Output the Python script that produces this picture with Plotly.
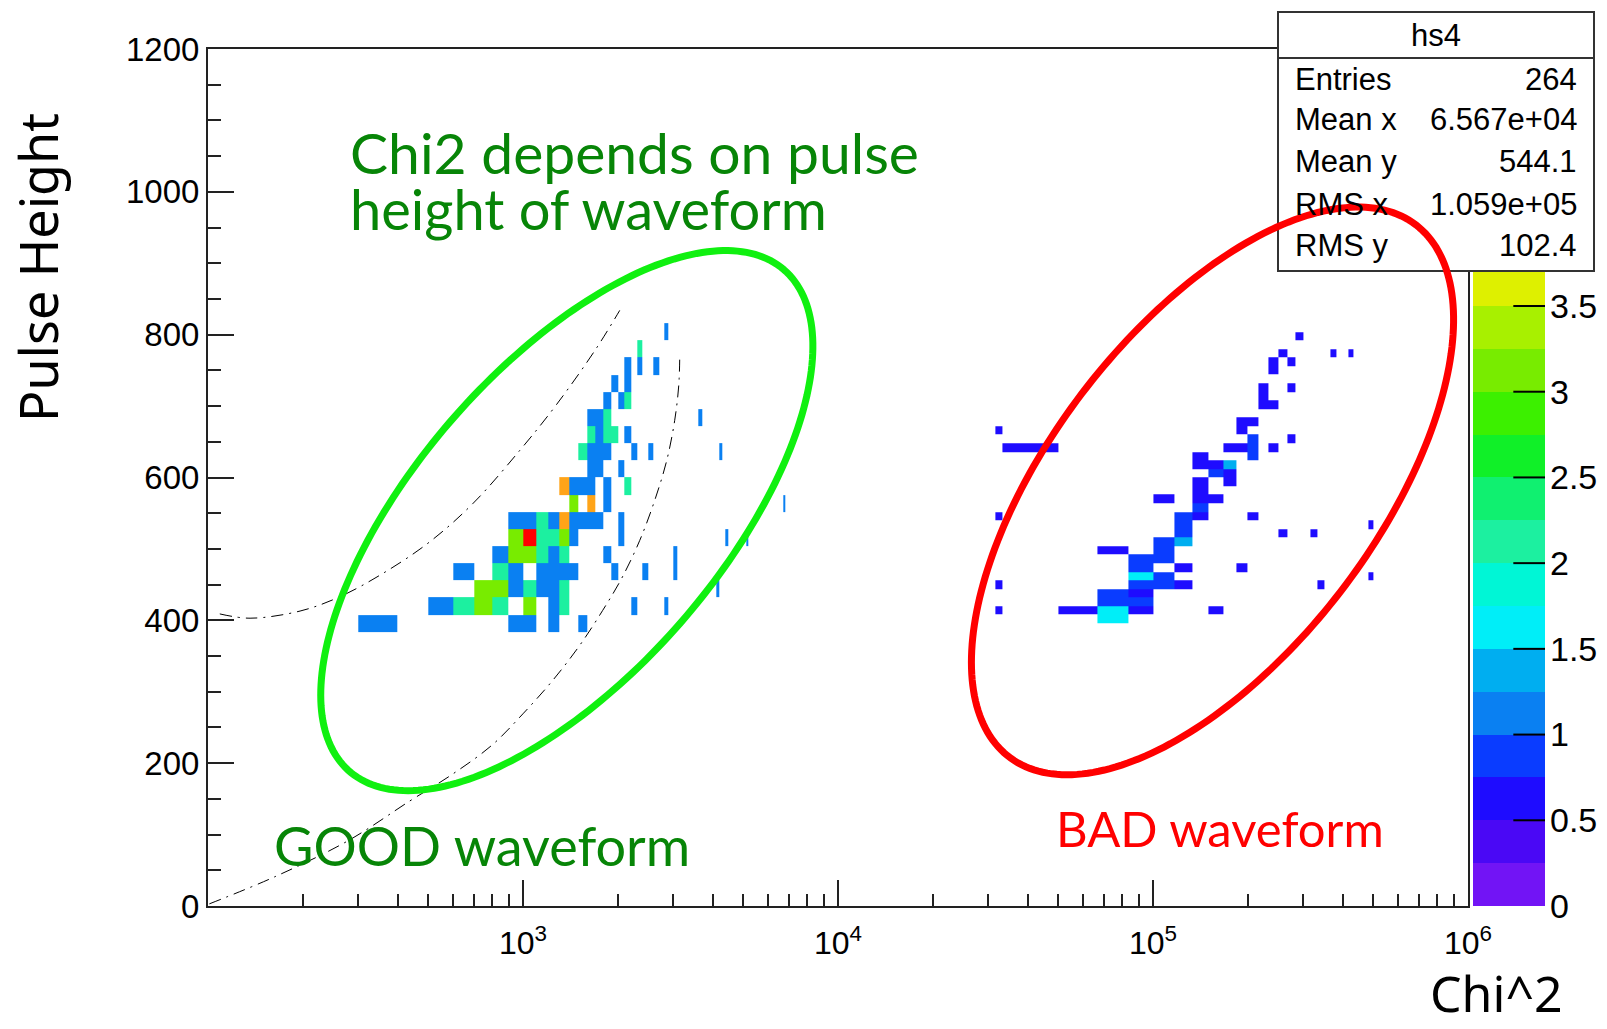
import numpy as np
import plotly.graph_objects as go

# ------------------------------------------------------------------ data
# GOOD-waveform histogram: bin low edges (Chi^2, Pulse Height) and counts
good_chi2 = [300, 900, 1000, 1200, 1500,
             500, 600, 700, 800, 1000, 1200, 1300, 2200, 2800,
             700, 800, 900, 1000, 1100, 1200, 1300, 4100,
             600, 800, 900, 1100, 1200, 1300, 1400, 1900, 2400, 3000,
             800, 900, 1000, 1100, 1200, 1300, 1800, 3000,
             900, 1000, 1100, 1200, 1300, 1400, 2000, 4400, 5100,
             900, 1000, 1100, 1200, 1300, 1400, 1500, 1600, 1700, 2000,
             1400, 1600, 1800, 6700,
             1300, 1400, 1500, 1600, 1800, 2100,
             1600, 1700, 2000,
             1500, 1600, 1700, 1800, 2200, 2500, 4200,
             1600, 1700, 1800, 1900, 2100,
             1600, 1700, 1800, 3600,
             1800, 2000, 2100,
             1900, 2100,
             2100, 2300, 2600,
             2300,
             2800]
good_height = [384] * 5 + [408] * 9 + [432] * 8 + [456] * 10 + [480] * 8 + \
              [504] * 9 + [528] * 10 + [552] * 4 + [576] * 6 + [600] * 3 + \
              [624] * 7 + [648] * 5 + [672] * 4 + [696] * 3 + [720] * 2 + \
              [744] * 3 + [768] * 1 + [792] * 1
good_count = [1, 1, 1, 1, 1,
              1, 2, 3, 2, 3, 1, 2, 1, 1,
              3, 3, 1, 2, 1, 1, 2, 1,
              1, 2, 1, 1, 1, 1, 1, 1, 1, 1,
              1, 3, 3, 2, 1, 2, 1, 1,
              3, 5, 2, 2, 3, 1, 1, 1, 1,
              1, 1, 2, 1, 4, 1, 1, 1, 1, 1,
              3, 4, 1, 1,
              4, 1, 1, 1, 1, 2,
              1, 1, 1,
              2, 1, 1, 1, 1, 1, 1,
              2, 1, 2, 2, 1,
              1, 1, 2, 1,
              1, 1, 2,
              1, 1,
              1, 1, 1,
              2,
              1]
good_x_edges = list(range(300, 7100, 100))
good_y_edges = list(range(384, 841, 24))

# BAD-waveform histogram: bin low edges and contents
bad_chi2 = [66700,
            31600, 50000, 66700, 83300, 150000,
            66700, 83300,
            66700, 83300,
            31600, 83300, 100000, 116700, 333300,
            83300, 100000, 483300,
            83300, 116700, 183300,
            83300, 100000,
            66700, 100000,
            100000, 116700,
            116700, 250000, 316700,
            116700, 483300,
            31600, 116700, 133300, 200000,
            133300,
            100000, 133300, 150000,
            133300,
            133300, 166700,
            150000, 166700,
            133300, 150000, 166700,
            133300, 200000,
            33300, 166700, 183300, 200000, 233300,
            200000, 266700,
            31600, 183300,
            183300, 200000,
            216700, 233300,
            216700,
            216700, 266700,
            233300,
            233300, 266700,
            250000, 366700, 416700,
            283300]
bad_height = [396] + [408] * 5 + [420] * 2 + [432] * 2 + [444] * 5 + [456] * 3 + \
             [468] * 3 + [480] * 2 + [492] * 2 + [504] * 2 + [516] * 3 + [528] * 2 + \
             [540] * 4 + [552] + [564] * 3 + [576] + [588] * 2 + [600] * 2 + \
             [612] * 3 + [624] * 2 + [636] * 5 + [648] * 2 + [660] * 2 + [672] * 2 + \
             [696] * 2 + [708] + [720] * 2 + [744] + [756] * 2 + [768] * 3 + [792]
bad_weight = [1.6,
              0.6, 0.6, 1.6, 0.6, 0.6,
              0.9, 0.9,
              0.9, 0.6,
              0.6, 0.9, 0.8, 0.6, 0.6,
              1.5, 0.9, 0.6,
              0.8, 0.6, 0.6,
              0.8, 0.8,
              0.6, 0.8,
              0.8, 1.4,
              0.9, 0.6, 0.6,
              0.9, 0.6,
              0.6, 0.9, 0.6, 0.6,
              0.9,
              0.6, 0.6, 0.6,
              0.6,
              0.6, 0.6,
              0.9, 0.6,
              0.6, 0.6, 1.4,
              0.6, 0.9,
              0.6, 0.6, 0.6, 0.9, 0.6,
              0.9, 0.6,
              0.6, 0.6,
              0.6, 0.6,
              0.6, 0.6,
              0.6,
              0.6, 0.6,
              0.6,
              0.6, 0.6,
              0.6, 0.6, 0.6,
              0.6]
bad_x_edges = [31600, 33300, 50000, 66700, 83300, 100000, 116700, 133300, 150000,
               166700, 183300, 200000, 216700, 233300, 250000, 266700, 283300,
               300000, 316700, 333300, 350000, 366700, 383300, 400000, 416700,
               433300, 450000, 466700, 483300, 500000]
bad_y_edges = list(range(396, 817, 12))

# hand-drawn guide curves (Chi^2, Pulse Height)
upper_curve_chi2 = [109, 136, 196, 262, 360, 506, 695, 977, 1277, 1710, 2028]
upper_curve_height = [409, 403, 413, 433, 466, 510, 564, 638, 702, 781, 834]
lower_curve_chi2 = [101, 165, 280, 437, 590, 796, 999, 1243, 1514, 1791, 2058,
                    2348, 2619, 2860, 3031, 3122, 3145]
lower_curve_height = [3, 42, 92, 147, 183, 225, 269, 316, 365, 414, 459,
                      512, 568, 624, 680, 729, 770]

stats_labels = ["Entries", "Mean x", "Mean y", "RMS x", "RMS y"]
stats_values = ["264", "6.567e+04", "544.1", "1.059e+05", "102.4"]

x_tick_vals = [1e3, 1e4, 1e5, 1e6]
x_tick_text = ["10<sup>3</sup>", "10<sup>4</sup>", "10<sup>5</sup>", "10<sup>6</sup>"]
x_minor_vals = [m * 10 ** e for e in range(2, 6) for m in range(2, 10)]
cbar_tick_vals = [0, 0.5, 1, 1.5, 2, 2.5, 3, 3.5]
cbar_tick_text = ["0", "0.5", "1", "1.5", "2", "2.5", "3", "3.5"]

# ------------------------------------------------------------------ style
band_colors = ["#7214f5", "#4a08f5", "#1e0cff", "#0a3cff", "#0a80f2",
               "#00aef0", "#00eef8", "#00f6d6", "#1cf0a0", "#10f070",
               "#10f028", "#3cf000", "#78ec00", "#a8f000", "#def000",
               "#ffe800", "#ffa418", "#ff7000", "#ff3c00", "#ff0000"]
Z_MAX = 5.0
CB_MAX = 3.71            # part of the palette left visible below the stats box
FONT_ROOT = "Liberation Sans"

FRAME_L, FRAME_R, PLOT_T, PLOT_B = 208, 1468, 49, 906
AREA_R = 1545            # right end of the colour bar
CB_L, CB_TOP = 1473, 270
AW, PH = AREA_R - FRAME_L, PLOT_B - PLOT_T


def banded_scale(colors, vmax):
    n = len(colors)
    width = Z_MAX / n
    scale = []
    eps = 1e-4
    for k, c in enumerate(colors):
        lo = k * width
        if lo >= vmax:
            break
        hi = min((k + 1) * width, vmax)
        a = 0.0 if k == 0 else lo / vmax - eps
        b = 1.0 if hi >= vmax else hi / vmax - eps
        scale.append([a, c])
        scale.append([b, c])
    return scale


def build_grid(xe, ye, xs, ys, vs):
    z = np.full((len(ye) - 1, len(xe) - 1), np.nan)
    for x, y, v in zip(xs, ys, vs):
        i = int(np.searchsorted(ye, y, side="right")) - 1
        j = int(np.searchsorted(xe, x, side="right")) - 1
        z[i, j] = v
    return [[None if np.isnan(val) else float(val) for val in row] for row in z]


def px_to_paper(px, py):
    return (px - FRAME_L) / AW, (PLOT_B - py) / PH


def ellipse_path(cx, cy, a, b, theta_deg, n=240):
    th = np.radians(theta_deg)
    t = np.linspace(0, 2 * np.pi, n)
    xs = cx + a * np.cos(t) * np.cos(th) - b * np.sin(t) * np.sin(th)
    ys = cy - (a * np.cos(t) * np.sin(th) + b * np.sin(t) * np.cos(th))
    pts = [px_to_paper(x, y) for x, y in zip(xs, ys)]
    d = "M %.5f %.5f " % pts[0] + " ".join("L %.5f %.5f" % p for p in pts[1:]) + " Z"
    return d


hm_scale = banded_scale(band_colors, Z_MAX)

fig = go.Figure()

fig.add_trace(go.Heatmap(
    x=good_x_edges, y=good_y_edges,
    z=build_grid(good_x_edges, good_y_edges, good_chi2, good_height, good_count),
    zmin=0, zmax=Z_MAX, colorscale=hm_scale, showscale=False, hoverinfo="skip"))
fig.add_trace(go.Heatmap(
    x=bad_x_edges, y=bad_y_edges,
    z=build_grid(bad_x_edges, bad_y_edges, bad_chi2, bad_height, bad_weight),
    zmin=0, zmax=Z_MAX, colorscale=hm_scale, showscale=False, hoverinfo="skip"))

fig.add_trace(go.Scatter(
    x=upper_curve_chi2, y=upper_curve_height, mode="lines",
    line=dict(color="black", width=1, dash="12px,6px,2px,6px", shape="spline"),
    hoverinfo="skip", showlegend=False))
fig.add_trace(go.Scatter(
    x=lower_curve_chi2, y=lower_curve_height, mode="lines",
    line=dict(color="black", width=1, dash="12px,6px,2px,6px", shape="spline"),
    hoverinfo="skip", showlegend=False))

# colour scale drawn as its own little axis pair (palette bands, 0 .. CB_MAX)
band_w = Z_MAX / len(band_colors)
cb_edges = [k * band_w for k in range(len(band_colors)) if k * band_w < CB_MAX] + [CB_MAX]
cb_mid = [[(lo + hi) / 2] for lo, hi in zip(cb_edges[:-1], cb_edges[1:])]
fig.add_trace(go.Heatmap(
    x=[0, 1], y=cb_edges, z=cb_mid, xaxis="x2", yaxis="y2",
    zmin=0, zmax=Z_MAX, colorscale=hm_scale, showscale=False, hoverinfo="skip"))

# ------------------------------------------------------------------ shapes
shapes = []
sx0, sy1 = px_to_paper(1278, 12)
sx1, sy0 = px_to_paper(1594, 271)
shapes.append(dict(type="rect", xref="paper", yref="paper", x0=sx0, x1=sx1, y0=sy0, y1=sy1,
                   fillcolor="white", line=dict(color="#333333", width=2), layer="above"))
_, sep_y = px_to_paper(0, 58)
shapes.append(dict(type="line", xref="paper", yref="paper", x0=sx0, x1=sx1, y0=sep_y, y1=sep_y,
                   line=dict(color="#333333", width=2), layer="above"))
# colour-bar tick marks, pointing in from the bar's right edge
for v in cbar_tick_vals[1:]:
    shapes.append(dict(type="line", xref="x2", yref="y2", x0=0.56, x1=1.0, y0=v, y1=v,
                       line=dict(color="black", width=2), layer="above"))
shapes.append(dict(type="path", xref="paper", yref="paper",
                   path=ellipse_path(566.8, 520.6, 331.8, 152.9, 49.1),
                   line=dict(color="#10f010", width=7), layer="above"))
shapes.append(dict(type="path", xref="paper", yref="paper",
                   path=ellipse_path(1212.5, 490.9, 334.9, 162.9, 52.6),
                   line=dict(color="#ff0000", width=7), layer="above"))

# ------------------------------------------------------------------ annotations
ann = []


def add_text(text, px, py, size, color, family, xanchor="left", angle=0, yanchor="middle"):
    x, y = px_to_paper(px, py)
    ann.append(dict(text=text, x=x, y=y, xref="paper", yref="paper", showarrow=False,
                    xanchor=xanchor, yanchor=yanchor, textangle=angle,
                    font=dict(size=size, color=color, family=family)))


add_text("Chi2 depends on pulse", 348, 152, 57, "#078507", "Lato")
add_text("height of waveform", 348, 208, 56, "#078507", "Lato")
add_text("GOOD waveform", 272, 845, 54, "#078507", "Lato")
add_text("BAD waveform", 1054, 828, 49, "#ff0000", "Lato")
add_text("Pulse Height", 37, 268, 52, "black", "Noto Sans", xanchor="center", angle=-90)
add_text("Chi^2", 1496, 1029, 50, "black", "Noto Sans", xanchor="center", yanchor="bottom")
add_text("hs4", 1436, 36, 31, "black", FONT_ROOT, xanchor="center")
row_y = [80, 120, 162, 205, 246]
for lab, val, yy in zip(stats_labels, stats_values, row_y):
    add_text(lab, 1293, yy, 31, "black", FONT_ROOT, xanchor="left")
    add_text(val, 1579, yy, 31, "black", FONT_ROOT, xanchor="right")

fig.update_layout(
    width=1607, height=1029,
    margin=dict(l=FRAME_L, r=1607 - AREA_R, t=PLOT_T, b=1029 - PLOT_B, autoexpand=False),
    paper_bgcolor="white", plot_bgcolor="rgba(0,0,0,0)",
    showlegend=False, shapes=shapes, annotations=ann,
    font=dict(family=FONT_ROOT, color="black"),
    xaxis=dict(
        domain=[0, (FRAME_R - FRAME_L) / AW],
        type="log", range=[2, 6], showgrid=False, zeroline=False,
        showline=True, linecolor="#222222", linewidth=2, mirror=True,
        tickvals=x_tick_vals, ticktext=x_tick_text,
        ticks="inside", ticklen=26, tickwidth=2, tickcolor="#222222",
        ticklabelstandoff=8,
        tickfont=dict(family=FONT_ROOT, size=32, color="black"),
        minor=dict(tickvals=x_minor_vals, ticks="inside", ticklen=12, tickwidth=2,
                   tickcolor="#222222", showgrid=False)),
    yaxis=dict(
        range=[0, 1200], showgrid=False, zeroline=False,
        showline=True, linecolor="#222222", linewidth=2, mirror=True,
        tickvals=list(range(0, 1201, 200)),
        ticks="inside", ticklen=26, tickwidth=2, tickcolor="#222222",
        ticklabelstandoff=0,
        tickfont=dict(family=FONT_ROOT, size=33, color="black"),
        minor=dict(dtick=50, ticks="inside", ticklen=13, tickwidth=2,
                   tickcolor="#222222", showgrid=False)),
    xaxis2=dict(
        domain=[(CB_L - FRAME_L) / AW, 1], anchor="y2", range=[0, 1],
        showgrid=False, zeroline=False, showline=False, showticklabels=False, ticks=""),
    yaxis2=dict(
        domain=[0, (PLOT_B - CB_TOP) / PH], anchor="x2", side="right",
        range=[0, CB_MAX], showgrid=False, zeroline=False, showline=False,
        tickvals=cbar_tick_vals, ticktext=cbar_tick_text,
        ticks="", ticklabelstandoff=4,
        tickfont=dict(family=FONT_ROOT, size=34, color="black")),
)

fig.write_html("out.html")
